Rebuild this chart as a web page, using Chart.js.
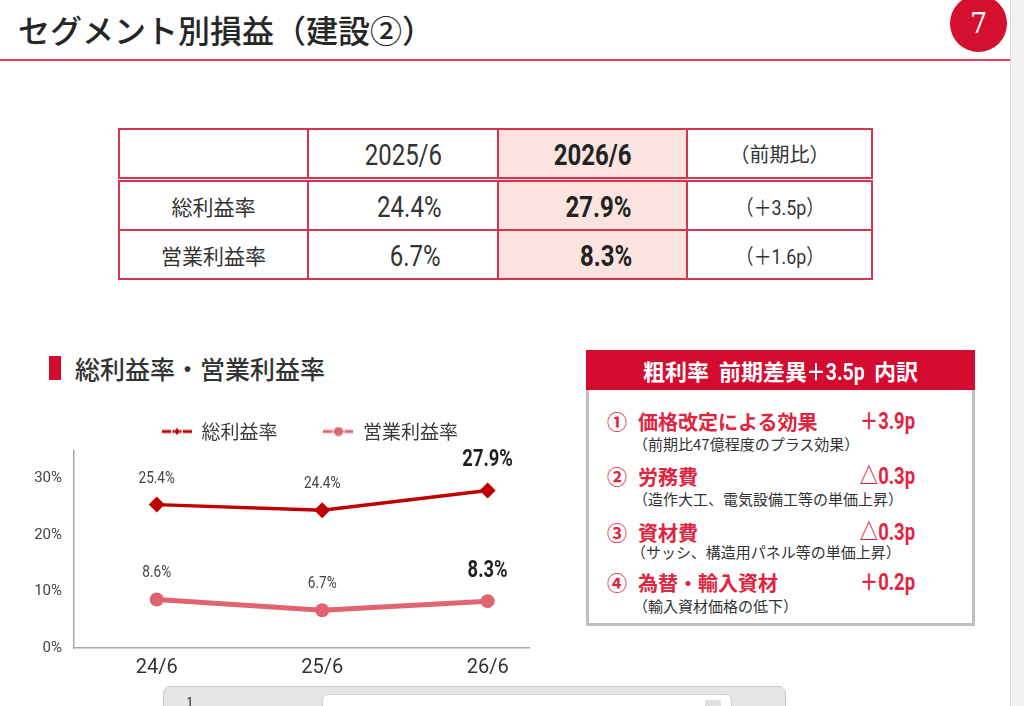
<!DOCTYPE html>
<html><head><meta charset="utf-8">
<script src="https://cdn.jsdelivr.net/npm/chart.js@4.4.1/dist/chart.umd.min.js"></script>
<style>
html,body{margin:0;padding:0;width:1024px;height:706px;overflow:hidden;background:#fff;font-family:"Noto Sans CJK JP","Noto Sans",sans-serif;color:#333;}
.abs{position:absolute;}
.cn{display:inline-block;font-family:Roboto,"Noto Sans CJK JP",sans-serif;transform:scaleX(0.8);}
.tbl{border-collapse:collapse;table-layout:fixed;}
.tbl td{border:2px solid #d9324f;height:47px;padding:0;text-align:center;vertical-align:middle;color:#333;}
.tbl tr.hd td{border-bottom:5px double #d9324f;}
.tbl .hl{background:#fbe4df;}
.tbl .num{font-size:30px;line-height:34px;}
.tbl .num .cn{transform-origin:center center;}
.tbl td.r{text-align:right;}
.tbl td.r .cn{transform-origin:right center;}
.tbl .b{font-weight:700;color:#222;}
.tbl .j{font-size:21px;color:#333;}
.tbl .p{font-size:21px;}
.tbl .p .cn{transform:scaleX(0.85);transform-origin:center center;}
.item{position:absolute;left:0;width:383px;height:28px;line-height:28px;font-size:20px;font-weight:700;color:#e1253f;white-space:nowrap;}
.item .v{position:absolute;right:57px;top:0;font-size:23px;transform-origin:right center;}
.item .t{position:absolute;left:49px;top:0;}
.item .c{position:absolute;left:18px;top:0;}
.sub{position:absolute;left:44px;height:20px;line-height:20px;font-size:15px;color:#333;white-space:nowrap;}
</style></head><body>

<div class="abs" style="left:1010px;top:0;width:14px;height:706px;background:#f1f1f1;border-left:1px solid #d9d9d9;"></div>
<div class="abs" style="left:18px;top:5px;font-size:32px;line-height:48px;color:#262626;font-weight:500;">セグメント別損益（建設②）</div>
<div class="abs" style="left:0;top:59px;width:1010px;height:2px;background:#e0405a;"></div>
<div class="abs" style="left:950px;top:-5px;width:57px;height:57px;border-radius:50%;background:#d50f2f;color:#fff;font-family:'DejaVu Serif','Liberation Serif',serif;font-size:27px;line-height:57px;text-align:center;">7</div>

<table class="abs tbl" style="left:118px;top:128px;">
<colgroup><col style="width:189px"><col style="width:190px"><col style="width:189px"><col style="width:185px"></colgroup>
<tr class="hd"><td></td><td class="num"><span class="cn">2025/6</span></td><td class="num b hl"><span class="cn">2026/6</span></td><td class="j" style="font-size:20px">（前期比）</td></tr>
<tr><td class="j">総利益率</td><td class="num r" style="padding-right:56px"><span class="cn">24.4%</span></td><td class="num b hl r" style="padding-right:54px"><span class="cn">27.9%</span></td><td class="p"><span class="cn">（＋3.5p）</span></td></tr>
<tr><td class="j">営業利益率</td><td class="num r" style="padding-right:56px"><span class="cn">6.7%</span></td><td class="num b hl r" style="padding-right:54px"><span class="cn">8.3%</span></td><td class="p"><span class="cn">（＋1.6p）</span></td></tr>
</table>

<div class="abs" style="left:49px;top:356px;width:12px;height:24px;background:#d50a30;"></div>
<div class="abs" style="left:75px;top:350px;font-size:25px;line-height:36px;color:#333;font-weight:500;">総利益率・営業利益率</div>

<canvas id="c" class="abs" width="580" height="312" style="left:20px;top:376px;width:580px;height:312px;"></canvas>

<div class="abs" style="left:586px;top:350px;width:389px;height:40px;background:#d50a30;color:#fff;font-weight:700;font-size:22px;line-height:40px;text-align:center;">粗利率&nbsp;&nbsp;前期差異<span class="cn" style="font-size:23px;transform:scaleX(0.85);margin:0 -6px">＋3.5p</span>&nbsp;&nbsp;内訳</div>
<div class="abs" style="left:586px;top:390px;width:383px;height:233px;border:3px solid #bfbfbf;border-top:none;background:#fff;">
  <div class="item" style="top:18px;"><span class="c">①</span><span class="t">価格改定による効果</span><span class="v cn">＋3.9p</span></div>
  <div class="sub" style="top:44px;">（前期比47億程度のプラス効果）</div>
  <div class="item" style="top:73px;"><span class="c">②</span><span class="t">労務費</span><span class="v cn">△0.3p</span></div>
  <div class="sub" style="top:99px;">（造作大工、電気設備工等の単価上昇）</div>
  <div class="item" style="top:129px;"><span class="c">③</span><span class="t">資材費</span><span class="v cn">△0.3p</span></div>
  <div class="sub" style="top:152px;left:42px;">（サッシ、構造用パネル等の単価上昇）</div>
  <div class="item" style="top:179px;"><span class="c">④</span><span class="t">為替・輸入資材</span><span class="v cn">＋0.2p</span></div>
  <div class="sub" style="top:206px;">（輸入資材価格の低下）</div>
</div>

<div class="abs" style="left:163px;top:686px;width:621px;height:40px;background:#e6e6e6;border:1px solid #c9c9c9;border-radius:7px;"></div>
<div class="abs" style="left:322px;top:694px;width:408px;height:30px;background:#fff;border:1px solid #d0d0d0;border-radius:6px;"></div>
<div class="abs" style="left:705px;top:700px;width:16px;height:14px;background:#e0e0e0;border-radius:2px;"></div>
<div class="abs" style="left:186px;top:694px;font-size:14px;color:#333;font-family:'Liberation Sans',sans-serif;">1</div>

<script>
const categories = ['24/6', '25/6', '26/6'];
const grossMargin = [25.4, 24.4, 27.9];
const operatingMargin = [8.6, 6.7, 8.3];
const seriesNames = ['総利益率', '営業利益率'];
const yTickValues = [0, 10, 20, 30];

const NUMFONT = 'Roboto,"Noto Sans",sans-serif';
const GROSS_COLOR = '#c00000';
const OP_COLOR = '#e06470';

function legendIcon(color, kind) {
  const c = document.createElement('canvas');
  c.width = 30; c.height = 10;
  const g = c.getContext('2d');
  g.fillStyle = color;
  g.fillRect(0, 3.5, 9, 3);
  g.fillRect(21, 3.5, 9, 3);
  g.beginPath();
  if (kind === 'diamond') {
    g.fillRect(10.5, 3.5, 2, 3);
    g.fillRect(17.5, 3.5, 2, 3);
    g.moveTo(15, 1.5); g.lineTo(18, 5); g.lineTo(15, 8.5); g.lineTo(12, 5);
  } else {
    g.fillRect(10, 3.5, 2, 3);
    g.fillRect(18, 3.5, 2, 3);
    g.arc(15, 5, 4.5, 0, Math.PI * 2);
  }
  g.closePath();
  g.fill();
  return c;
}

const pointLabels = {
  id: 'pointLabels',
  afterDatasetsDraw(chart) {
    const ctx = chart.ctx;
    chart.data.datasets.forEach((ds, di) => {
      const meta = chart.getDatasetMeta(di);
      meta.data.forEach((pt, i) => {
        const last = i === meta.data.length - 1;
        ctx.save();
        ctx.translate(pt.x, pt.y - (last ? 30 : 26));
        ctx.scale(last ? 0.8 : 0.85, 1);
        ctx.font = (last ? 'bold 23px ' : '16px ') + NUMFONT;
        ctx.fillStyle = last ? '#1f1f1f' : '#444';
        ctx.textAlign = 'center';
        ctx.textBaseline = 'middle';
        ctx.fillText(ds.data[i].y.toFixed(1) + '%', 0, 0);
        ctx.restore();
      });
    });
  }
};

function draw() {
  const icons = [legendIcon(GROSS_COLOR, 'diamond'), legendIcon(OP_COLOR, 'circle')];
  new Chart(document.getElementById('c'), {
    type: 'line',
    data: {
      datasets: [
        {
          label: seriesNames[0],
          data: grossMargin.map((v, i) => ({ x: i, y: v })),
          borderColor: GROSS_COLOR, backgroundColor: GROSS_COLOR,
          borderWidth: 3.5, pointStyle: 'rectRot', pointRadius: 8, pointBorderWidth: 0,
          tension: 0
        },
        {
          label: seriesNames[1],
          data: operatingMargin.map((v, i) => ({ x: i, y: v })),
          borderColor: OP_COLOR, backgroundColor: OP_COLOR,
          borderWidth: 5, pointStyle: 'circle', pointRadius: 7, pointBorderWidth: 0,
          tension: 0
        }
      ]
    },
    options: {
      responsive: false, animation: false, events: [],
      layout: { padding: 0 },
      plugins: {
        tooltip: { enabled: false },
        legend: {
          display: true, position: 'top', align: 'center',
          labels: {
            usePointStyle: true, pointStyleWidth: 30, padding: 46,
            color: '#3a3a3a',
            font: { family: '"Noto Sans CJK JP",sans-serif', size: 19 },
            generateLabels: (chart) => chart.data.datasets.map((d, i) => ({
              text: d.label, pointStyle: icons[i], datasetIndex: i, hidden: false,
              fillStyle: d.borderColor, strokeStyle: d.borderColor, lineWidth: 0, fontColor: '#3a3a3a'
            }))
          }
        }
      },
      scales: {
        x: {
          type: 'linear', min: -0.5, max: 2.25,
          afterBuildTicks: (s) => { s.ticks = categories.map((c, i) => ({ value: i })); },
          ticks: {
            callback: (v) => categories[v], autoSkip: false, maxRotation: 0,
            font: { family: NUMFONT, size: 20 }, color: '#333', padding: 8
          },
          grid: { display: false, drawTicks: false },
          border: { display: true, color: '#a8a8a8', width: 1.5 },
          afterFit: (s) => { s.height = 40; }
        },
        y: {
          min: 0, max: 34.9,
          afterBuildTicks: (s) => { s.ticks = yTickValues.map(v => ({ value: v })); },
          ticks: {
            callback: (v) => v + '%',
            font: { family: NUMFONT, size: 15 }, color: '#444', padding: 12
          },
          grid: { display: false, drawTicks: false },
          border: { display: true, color: '#a8a8a8', width: 1.5 },
          afterFit: (s) => { s.width = 54; }
        },
        y2: {
          position: 'right', display: true,
          ticks: { display: false },
          grid: { display: false, drawTicks: false },
          border: { display: false },
          afterFit: (s) => { s.width = 71; }
        }
      }
    },
    plugins: [pointLabels]
  });
}

const fontsReady = Promise.all([
  document.fonts.load('16px Roboto'),
  document.fonts.load('bold 23px Roboto'),
  document.fonts.load('19px "Noto Sans CJK JP"')
]).catch(() => {});
Promise.race([fontsReady, new Promise(r => setTimeout(r, 800))]).then(draw);
</script>
</body></html>
